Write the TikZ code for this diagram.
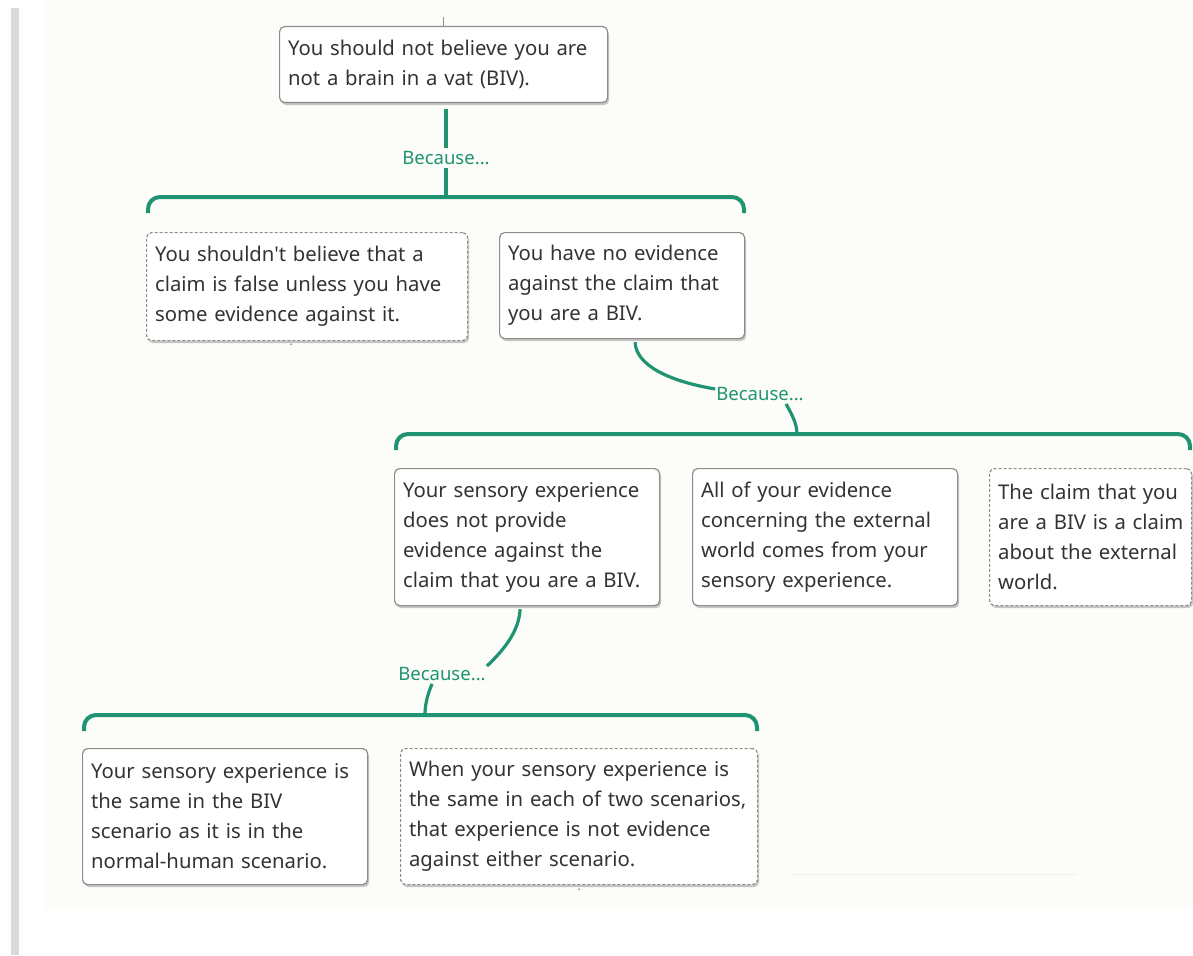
\documentclass[tikz,border=0pt]{standalone}
\usepackage{fontspec}
\setmainfont{Noto Sans}
\newfontfamily\plainsans{Noto Sans}
\usetikzlibrary{shadows,calc}
\definecolor{argGreen}{HTML}{1F9372}
\definecolor{inkgray}{HTML}{333333}
\definecolor{rim}{HTML}{8C8C8C}
\definecolor{paper}{HTML}{FCFCF8}
\definecolor{sidebar}{HTML}{DADADA}
\begin{document}
\begin{tikzpicture}[x=1pt,y=-1pt,
  claim/.style={draw=rim, line width=1.2pt, rounded corners=5pt, fill=white,
    align=left, anchor=north west, inner xsep=8.5pt, inner ysep=0pt,
    font=\plainsans\fontsize{20.3}{30}\selectfont, text=inkgray,
    drop shadow={shadow xshift=1.5pt, shadow yshift=-2.5pt, opacity=0.4, fill=black!55}},
  premise/.style={claim, dash pattern=on 3pt off 2pt},
  because/.style={text=argGreen, font=\plainsans\fontsize{18.5}{20}\selectfont, inner sep=3pt},
  link/.style={draw=argGreen, line width=3.2pt},
  bracket/.style={draw=argGreen, line width=4pt, rounded corners=12pt}]
\useasboundingbox (0,0) rectangle (1193,955);
% page background and side rule
\fill[paper] (45,0) rectangle (1193,908);
\fill[sidebar] (11,8) rectangle (19,955);
\draw[black!6, line width=0.8pt] (790,874) -- (1077,874);

% claims
\node[claim, text width=311pt, minimum height=76pt] (root) at (279,26)
  {You should not believe you are\\not a brain in a vat (BIV).};
\node[premise, text width=304pt, minimum height=108pt] (A) at (146,232)
  {You shouldn't believe that a\\claim is false unless you have\\some evidence against it.};
\node[claim, text width=228pt, minimum height=106pt] (B) at (499,232)
  {You have no evidence\\against the claim that\\you are a BIV.};
\node[claim, text width=248pt, minimum height=137pt] (C) at (394,468)
  {Your sensory experience\\does not provide\\evidence against the\\claim that you are a BIV.};
\node[claim, text width=248pt, minimum height=137pt] (D) at (692,468)
  {All of your evidence\\concerning the external\\world comes from your\\sensory experience.};
\node[premise, text width=185pt, minimum height=137pt] (E) at (989,468)
  {\mbox{The claim that you}\\\mbox{are a BIV is a claim}\\\mbox{about the external}\\world.};
\node[claim, text width=268pt, minimum height=136pt] (F) at (82,748)
  {Your sensory experience is\\the same in the BIV\\scenario as it is in the\\normal-human scenario.};
\node[premise, text width=340pt, minimum height=136pt] (G) at (400,748)
  {When your sensory experience is\\the same in each of two scenarios,\\that experience is not evidence\\against either scenario.};

% small stubs
\draw[rim, line width=1pt] (root.north) -- ++(0,-9);
\fill[rim] ($(A.south)+(-16,3)$) circle (1pt);
\fill[rim] ($(G.south)+(0,4)$) circle (1pt);

% reason labels
\node[because] (why1) at (446,158) {Because...};
\node[because] (why2) at (760,394) {Because...};
\node[because] (why3) at (442,674) {Because...};

% bracket joints and ends
\coordinate (j1) at (446,197);
\coordinate (b1l) at (148,213);
\coordinate (b1r) at (744,213);
\coordinate (j2) at (797,434);
\coordinate (b2l) at (396,450);
\coordinate (b2r) at (1190,450);
\coordinate (j3) at (425,715);
\coordinate (b3l) at (84,731);
\coordinate (b3r) at (757,731);

% first level
\draw[link, shorten <=6pt] (root.south -| why1.north) -- (why1.north);
\draw[link] (why1.south) -- (j1);
\draw[bracket] (b1l) |- (j1) -| (b1r);

% second level
\draw[link] ($(B.south)+(13,3)$) .. controls (636,365) and (668,381) .. ($(why2.west)+(2,-5)$);
\draw[link] ($(why2.south)+(26,0)$) .. controls (793,416) and (797,425) .. (j2);
\draw[bracket] (b2l) |- (j2) -| (b2r);

% third level
\draw[link] ($(C.south)+(-7,3)$) .. controls (519,630) and (506,648) .. ($(why3.north east)+(-2,2)$);
\draw[link] ($(why3.south)+(-10,0)$) .. controls (427,696) and (425,705) .. (j3);
\draw[bracket] (b3l) |- (j3) -| (b3r);
\end{tikzpicture}
\end{document}
